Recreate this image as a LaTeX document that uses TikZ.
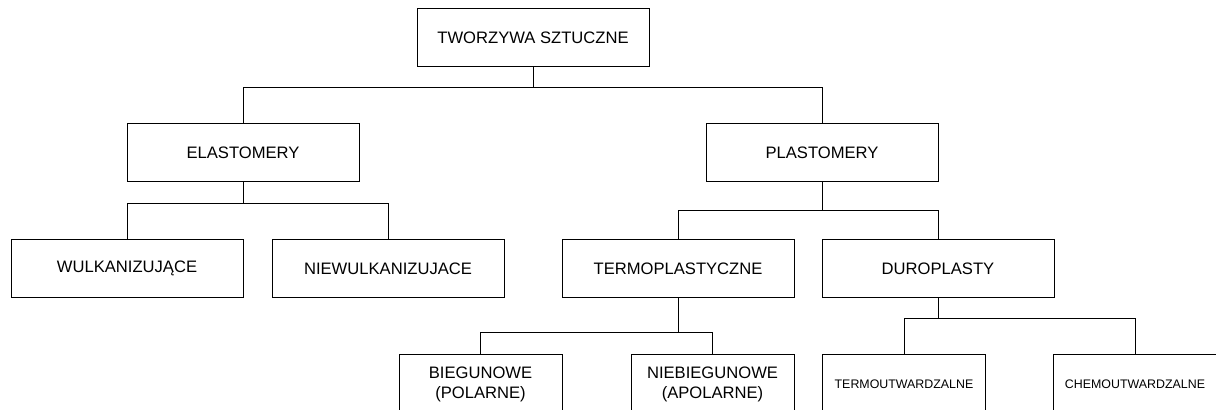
\documentclass[tikz,border=0pt]{standalone}
\usepackage{fontspec}
\setmainfont{Liberation Sans}

\tikzset{
  box/.style={draw=black, line width=0.5pt, minimum width=116pt, minimum height=29pt, inner sep=0pt, font=\fontsize{8.3}{10}\selectfont},
  smallbox/.style={box, minimum width=81.5pt, align=center},
  tinybox/.style={smallbox, font=\fontsize{6.2}{7.5}\selectfont},
  conn/.style={draw=black, line width=0.5pt}
}

\begin{document}
\begin{tikzpicture}[x=0.5pt, y=-0.5pt]
   \useasboundingbox (0,0) rectangle (1216,410);
   \clip (0,0) rectangle (1216,410);

   \node[box, name=tw] at (533,38) {TWORZYWA SZTUCZNE};
   \node[box, name=el] at (243,153) {ELASTOMERY};
   \node[box, name=pl] at (822,153) {PLASTOMERY};
   \node[box, name=wu] at (127,268.5) {WULKANIZUJĄCE};
   \node[box, name=nw] at (388,268.5) {NIEWULKANIZUJACE};
   \node[box, name=tp] at (678,268.5) {TERMOPLASTYCZNE};
   \node[box, name=du] at (938,268.5) {DUROPLASTY};
   \node[smallbox, name=bi] at (480.5,384) {BIEGUNOWE\\(POLARNE)};
   \node[smallbox, name=nb] at (712.5,384) {NIEBIEGUNOWE\\(APOLARNE)};
   \node[tinybox, name=to] at (904,384) {TERMOUTWARDZALNE};
   \node[tinybox, name=ch] at (1135,384) {CHEMOUTWARDZALNE};

   % bar junctions
   \coordinate (j1) at (533,88);
   \coordinate (j2) at (243,204);
   \coordinate (j3) at (822,211);
   \coordinate (j4) at (678,333);
   \coordinate (j5) at (938,319);

   \path[conn]
      (tw.south) -- (j1) -| (el.north)
      (j1) -| (pl.north)
      (el.south) -- (j2) -| (wu.north)
      (j2) -| (nw.north)
      (pl.south) -- (j3) -| (tp.north)
      (j3) -| (du.north)
      (tp.south) -- (j4) -| (bi.north)
      (j4) -| (nb.north)
      (du.south) -- (j5) -| (to.north)
      (j5) -| (ch.north);
\end{tikzpicture}
\end{document}
